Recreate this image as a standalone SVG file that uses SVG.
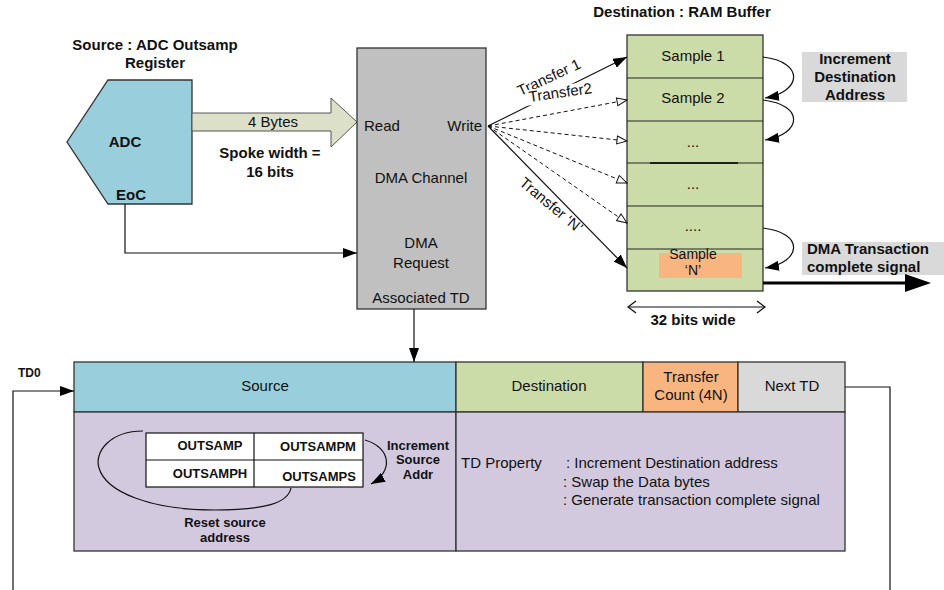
<svg xmlns="http://www.w3.org/2000/svg" width="944" height="590" viewBox="0 0 944 590">
<style>
text{font-family:"Liberation Sans",Arial,sans-serif;font-size:15px;fill:#111}
.b{font-weight:bold}
.m{text-anchor:middle}
.e{text-anchor:end}
.s13{font-size:13px}
.ln{fill:none;stroke:#111;stroke-width:1.2}
.dash{fill:none;stroke:#111;stroke-width:1;stroke-dasharray:4,3}
.box{stroke:#333;stroke-width:1.3}
</style>
<defs>
<marker id="af" markerUnits="userSpaceOnUse" markerWidth="14" markerHeight="10" refX="14" refY="5" orient="auto"><path d="M0,0 L14,5 L0,10 z" fill="#000"/></marker>
<marker id="ao" markerUnits="userSpaceOnUse" markerWidth="12" markerHeight="10" refX="11" refY="5" orient="auto"><path d="M1,1 L11,5 L1,9 z" fill="#fff" stroke="#111" stroke-width="1"/></marker>
<marker id="ch" markerUnits="userSpaceOnUse" markerWidth="10" markerHeight="14" refX="9" refY="7" orient="auto-start-reverse"><path d="M1,1 L9,7 L1,13" fill="none" stroke="#111" stroke-width="1.3"/></marker>
</defs>

<g id="source-adc">
<text class="b m" x="155" y="50">Source : ADC Outsamp</text>
<text class="b m" x="155" y="68">Register</text>
<polygon class="box" points="108,80 192,80 192,204 108,204 67,142" fill="#99CEDC"/>
<text class="b m" x="125" y="147">ADC</text>
<text class="b m" x="131" y="200">EoC</text>
</g>

<g id="spoke-arrow">
<polygon points="192,113 331,113 331,98 357,122 331,147 331,131 192,131" fill="#DCE0C9" stroke="#555" stroke-width="1"/>
<text class="m" x="273" y="127">4 Bytes</text>
<text class="b m" x="270" y="158">Spoke width =</text>
<text class="b m" x="270" y="177">16 bits</text>
</g>

<g id="dma-channel">
<rect class="box" x="357" y="48" width="129" height="261" fill="#C0C0C0"/>
<text x="364" y="131">Read</text>
<text class="e" x="482" y="131">Write</text>
<text class="m" x="421" y="183">DMA Channel</text>
<text class="m" x="421" y="248">DMA</text>
<text class="m" x="421" y="268">Request</text>
<text class="m" x="421" y="303">Associated TD</text>
</g>

<g id="ram-buffer">
<text class="b m" x="682" y="17">Destination : RAM Buffer</text>
<rect class="box" x="627" y="35" width="136" height="256" fill="#CCDCA9"/>
<g stroke="#222" stroke-width="1.1">
<line x1="627" y1="78" x2="763" y2="78"/>
<line x1="627" y1="121" x2="763" y2="121"/>
<line x1="627" y1="163" x2="763" y2="163"/>
<line x1="627" y1="206" x2="763" y2="206"/>
<line x1="627" y1="249" x2="763" y2="249"/>
</g>
<line x1="650" y1="163" x2="738" y2="163" stroke="#000" stroke-width="1.7"/>
<rect x="659" y="253" width="83" height="25" fill="#F8B580"/>
<text class="m" x="693" y="61">Sample 1</text>
<text class="m" x="693" y="103">Sample 2</text>
<text class="m" x="693" y="147">...</text>
<text class="m" x="693" y="189">...</text>
<text class="m" x="693" y="231">....</text>
<text class="m" x="693" y="259" style="font-size:14px">Sample</text>
<text class="m" x="693" y="275" style="font-size:14px">‘N’</text>
</g>

<g id="increment-destination">
<rect x="802" y="52" width="105" height="50" fill="#D9D9D9"/>
<text class="b m" x="855" y="64">Increment</text>
<text class="b m" x="855" y="82">Destination</text>
<text class="b m" x="855" y="100">Address</text>
</g>

<g id="transaction-complete">
<rect x="802" y="242" width="142" height="33" fill="#D9D9D9"/>
<text class="b" x="807" y="254">DMA Transaction</text>
<text class="b" x="807" y="272">complete signal</text>
</g>

<g id="width-label">
<line class="ln" x1="628" y1="307" x2="765" y2="307" marker-start="url(#ch)" marker-end="url(#ch)"/>
<text class="b m" x="693" y="325">32 bits wide</text>
</g>

<g id="td0">
<text class="b" x="18" y="377" style="font-size:12px">TD0</text>
<rect class="box" x="74" y="362" width="382" height="50" fill="#99CEDC"/>
<rect class="box" x="456" y="362" width="187" height="50" fill="#CCDCA9"/>
<rect class="box" x="643" y="362" width="95" height="50" fill="#F8B580"/>
<rect class="box" x="738" y="362" width="107" height="50" fill="#D9D9D9"/>
<rect class="box" x="74" y="412" width="382" height="139" fill="#D3C9DF"/>
<rect class="box" x="456" y="412" width="389" height="139" fill="#D3C9DF"/>
<text class="m" x="265" y="391">Source</text>
<text class="m" x="549" y="391">Destination</text>
<text class="m" x="691" y="382">Transfer</text>
<text class="m" x="691" y="400">Count (4N)</text>
<text class="m" x="792" y="391">Next TD</text>
<text x="461" y="468">TD Property</text>
<text x="566" y="468">: Increment Destination address</text>
<text x="563" y="487">: Swap the Data bytes</text>
<text x="563" y="505">: Generate transaction complete signal</text>
</g>

<g id="connectors">
<polyline class="ln" points="125,204 125,253 357,253" marker-end="url(#af)"/>
<line class="ln" x1="414" y1="309" x2="414" y2="362" marker-end="url(#af)"/>
<line class="ln" x1="488" y1="126" x2="627" y2="57" marker-end="url(#af)"/>
<line class="dash" x1="488" y1="126" x2="627" y2="100" marker-end="url(#ao)"/>
<line class="dash" x1="488" y1="126" x2="627" y2="141" marker-end="url(#ao)"/>
<line class="dash" x1="488" y1="126" x2="627" y2="183" marker-end="url(#ao)"/>
<line class="dash" x1="488" y1="126" x2="627" y2="223" marker-end="url(#ao)"/>
<line class="ln" x1="488" y1="126" x2="627" y2="268" marker-end="url(#af)"/>
<path class="ln" d="M763,57 C805,62 802,92 765,98" marker-end="url(#af)"/>
<path class="ln" d="M763,100 C805,105 802,134 765,140" marker-end="url(#af)"/>
<path class="ln" d="M763,228 C805,233 802,262 765,268" marker-end="url(#af)"/>
<line x1="763" y1="283" x2="908" y2="283" stroke="#000" stroke-width="3"/>
<polygon points="905,274 931,283 905,292" fill="#000"/>
<polyline class="ln" points="845,387 890,387 890,590"/>
<polyline class="ln" points="13,590 13,391 74,391" marker-end="url(#af)"/>
<path class="ln" d="M365,440 C392,448 393,472 371,484" marker-end="url(#af)"/>
<path class="ln" d="M143,431 C110,431 94,452 99,468 C106,492 150,510 215,510 C265,510 288,503 291,488"/>
</g>

<g id="transfer-labels">
<text class="m" transform="translate(551,82) rotate(-25)">Transfer 1</text>
<g transform="translate(561,97.5) rotate(-8)">
<rect x="-35" y="-12" width="70" height="15.5" fill="#fff"/>
<text class="m" x="0" y="0">Transfer2</text>
</g>
<text class="m" transform="translate(548,209) rotate(40)">Transfer ‘N’</text>
</g>

<g id="source-registers">
<rect x="146" y="433" width="217" height="54" fill="#fff" stroke="#111" stroke-width="1.2"/>
<line x1="146" y1="460" x2="363" y2="460" stroke="#111" stroke-width="1.2"/>
<line x1="254" y1="433" x2="254" y2="487" stroke="#111" stroke-width="1.2"/>
<text class="b s13 m" x="210" y="450">OUTSAMP</text>
<text class="b s13 m" x="318" y="451">OUTSAMPM</text>
<text class="b s13 m" x="210" y="478">OUTSAMPH</text>
<text class="b s13 m" x="319" y="481">OUTSAMPS</text>
<text class="b s13 m" x="418" y="450">Increment</text>
<text class="b s13 m" x="418" y="464">Source</text>
<text class="b s13 m" x="418" y="479">Addr</text>
<text class="b s13 m" x="225" y="527">Reset source</text>
<text class="b s13 m" x="225" y="542">address</text>
</g>
</svg>
